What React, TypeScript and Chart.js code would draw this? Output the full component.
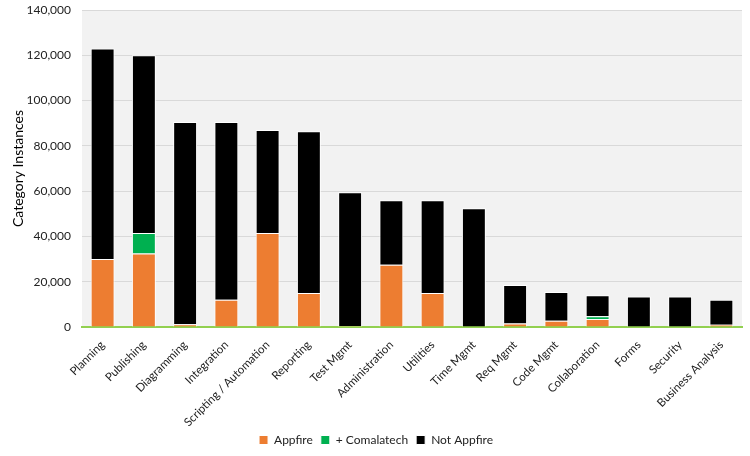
import React, { useEffect, useRef } from "react";
import { Chart, registerables } from "chart.js";

Chart.register(...registerables);

const categories = [
  "Planning", "Publishing", "Diagramming", "Integration", "Scripting / Automation",
  "Reporting", "Test Mgmt", "Administration", "Utilities", "Time Mgmt",
  "Req Mgmt", "Code Mgmt", "Collaboration", "Forms", "Security", "Business Analysis",
];
const totals = [123000, 120000, 90500, 90500, 87000, 86500, 59500, 56000, 56000, 52500, 18500, 15500, 14000, 13500, 13500, 12000];
const appfire = [30000, 32500, 1200, 12000, 41500, 15000, 400, 27500, 15000, 200, 1500, 2800, 3500, 200, 200, 1000];
const comalatech = [0, 9000, 0, 0, 0, 0, 0, 0, 0, 0, 0, 0, 1300, 0, 0, 0];
const notAppfire = totals.map((t, i) => t - appfire[i] - comalatech[i]);
const yTicks = [0, 20000, 40000, 60000, 80000, 100000, 120000, 140000];

const bgPlugin = {
  id: "plotBg",
  beforeDraw(chart: any) {
    const { ctx, chartArea } = chart;
    if (!chartArea) return;
    ctx.save();
    ctx.fillStyle = "#f2f2f2";
    ctx.fillRect(chartArea.left, chartArea.top, chartArea.right - chartArea.left, chartArea.bottom - chartArea.top);
    ctx.restore();
  },
};

export default function App() {
  const ref = useRef<HTMLCanvasElement>(null);
  useEffect(() => {
    const font = "Lato, 'Open Sans', sans-serif";
    const common = { borderColor: "#ffffff", borderWidth: 1, barPercentage: 0.58, categoryPercentage: 1 };
    const chart = new Chart(ref.current!, {
      type: "bar",
      data: {
        labels: categories,
        datasets: [
          { label: "Appfire", data: appfire, backgroundColor: "#ed7d31", ...common },
          { label: "+ Comalatech", data: comalatech, backgroundColor: "#00b050", ...common },
          { label: "Not Appfire", data: notAppfire, backgroundColor: "#000000", ...common },
        ],
      },
      options: {
        animation: false,
        responsive: false,
        maintainAspectRatio: false,
        layout: { padding: { top: 10, right: 8, left: 10, bottom: 0 } },
        plugins: {
          legend: {
            position: "bottom",
            labels: { boxWidth: 9, boxHeight: 9, font: { family: font, size: 12 }, color: "#222", padding: 8 },
          },
          tooltip: { enabled: false },
        },
        scales: {
          x: {
            stacked: true,
            grid: { display: false },
            border: { color: "#92d050", width: 2 },
            afterFit: (scale: any) => { scale.paddingLeft = 0; scale.height = 99; },
            ticks: { minRotation: 45, maxRotation: 45, autoSkip: false, padding: 3, font: { family: font, size: 11.5 }, color: "#222" },
          },
          y: {
            stacked: true,
            min: 0,
            max: 140000,
            afterBuildTicks: (axis: any) => { axis.ticks = yTicks.map((v) => ({ value: v })); },
            afterFit: (scale: any) => { scale.paddingTop = 0; scale.paddingBottom = 0; scale.width = 72; },
            grid: { color: "#d9d9d9", drawTicks: false },
            border: { display: false },
            ticks: {
              padding: 11,
              font: { family: font, size: 12 },
              color: "#222",
              callback: (v: any) => Number(v).toLocaleString("en-US"),
            },
            title: { display: true, text: "Category Instances", font: { family: font, size: 14 }, color: "#000", padding: 0 },
          },
        },
      },
      plugins: [bgPlugin],
    });
    return () => chart.destroy();
  }, []);
  return (
    <div style={{ position: "absolute", left: 0, top: 0, width: 750, height: 456, background: "#fff" }}>
      <canvas ref={ref} width={750} height={456} />
    </div>
  );
}
